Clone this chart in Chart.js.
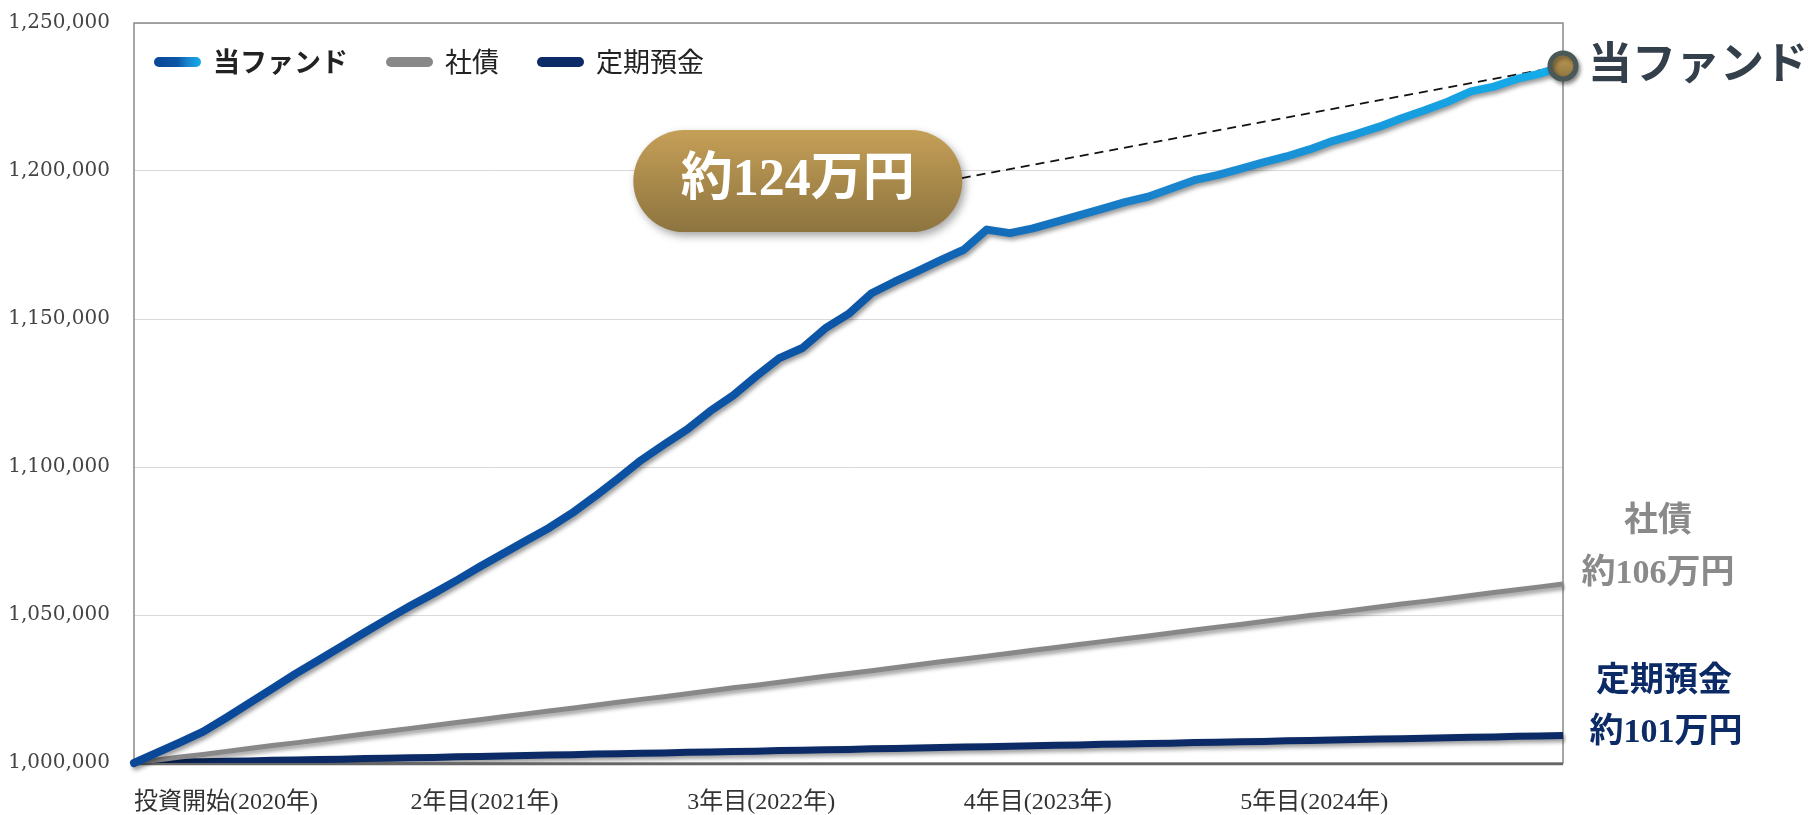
<!DOCTYPE html>
<html lang="ja">
<head>
<meta charset="utf-8">
<script src="https://cdn.jsdelivr.net/npm/chart.js@4.4.1/dist/chart.umd.min.js"></script>
<style>
  html, body { margin: 0; padding: 0; background: #fff; }
  #wrap { width: 1813px; height: 815px; }
</style>
</head>
<body>
<div id="wrap"><canvas id="chart" width="1813" height="815"></canvas></div>
<script>
// tick labels for the x axis (one per year, first month of each year)
const yearLabels = ['投資開始(2020年)', '2年目(2021年)', '3年目(2022年)', '4年目(2023年)', '5年目(2024年)'];
const seriesNames = ['当ファンド', '社債', '定期預金'];

// monthly values (yen)
const fund = [
  1000000, 1003500, 1007000, 1010600, 1015300, 1020200, 1025100, 1030100, 1034700, 1039400,
  1044100, 1048700, 1053100, 1057300, 1061700, 1066300, 1070700, 1075100, 1079400, 1084400,
  1090100, 1096100, 1102300, 1107600, 1112700, 1118900, 1124200, 1130700, 1136800, 1140200,
  1146900, 1151700, 1158700, 1162600, 1166200, 1169900, 1173400, 1180200, 1179000, 1180600,
  1182800, 1185000, 1187200, 1189500, 1191300, 1194100, 1196900, 1198600, 1200700, 1202900,
  1204900, 1207300, 1210100, 1212400, 1214900, 1217800, 1220500, 1223400, 1226900, 1228500,
  1231100, 1232900, 1235500
];
const bond = [
  1000000, 1001000, 1002000, 1002900, 1003900, 1004900, 1005900, 1006800, 1007800, 1008800,
  1009800, 1010700, 1011700, 1012700, 1013700, 1014600, 1015600, 1016600, 1017600, 1018500,
  1019500, 1020500, 1021500, 1022400, 1023400, 1024400, 1025400, 1026300, 1027300, 1028300,
  1029300, 1030200, 1031200, 1032200, 1033200, 1034200, 1035100, 1036100, 1037100, 1038100,
  1039000, 1040000, 1041000, 1042000, 1042900, 1043900, 1044900, 1045900, 1046800, 1047800,
  1048800, 1049800, 1050700, 1051700, 1052700, 1053700, 1054600, 1055600, 1056600, 1057600,
  1058500, 1059500, 1060500
];
const deposit = [
  1000000, 1000100, 1000300, 1000400, 1000600, 1000700, 1000900, 1001000, 1001200, 1001300,
  1001500, 1001600, 1001800, 1001900, 1002100, 1002200, 1002400, 1002500, 1002700, 1002800,
  1003000, 1003100, 1003300, 1003400, 1003600, 1003700, 1003900, 1004000, 1004200, 1004300,
  1004500, 1004600, 1004800, 1004900, 1005100, 1005200, 1005400, 1005500, 1005700, 1005800,
  1006000, 1006100, 1006300, 1006400, 1006600, 1006700, 1006900, 1007000, 1007200, 1007300,
  1007500, 1007600, 1007800, 1007900, 1008100, 1008200, 1008400, 1008500, 1008700, 1008800,
  1009000, 1009100, 1009300
];

// month categories
const months = [];
for (let i = 0; i < fund.length; i++) {
  months.push((2020 + Math.floor(i / 12)) + '/' + (i % 12 + 1));
}

const SERIF = '"Liberation Serif", "Noto Sans CJK JP", serif';
const JP = '"Noto Sans CJK JP", sans-serif';
const last = fund.length - 1;

function ok(...v) { return v.every(Number.isFinite); }

function fundGradient(ctx, x0, x1) {
  if (!ok(x0, x1) || x1 <= x0) return '#0c56a7';
  const g = ctx.createLinearGradient(x0, 0, x1, 0);
  g.addColorStop(0, '#0a4797');
  g.addColorStop(0.5, '#0c56a7');
  g.addColorStop(0.72, '#1a84cd');
  g.addColorStop(1, '#15aeea');
  return g;
}

function goldGradient(ctx, y0, y1) {
  if (!ok(y0, y1)) return '#a8874a';
  const g = ctx.createLinearGradient(0, y0, 0, y1);
  g.addColorStop(0, '#c59f57');
  g.addColorStop(1, '#8d743f');
  return g;
}

// drop shadow under every line
const lineShadow = {
  id: 'lineShadow',
  beforeDatasetDraw(chart) {
    const ctx = chart.ctx;
    ctx.save();
    ctx.shadowColor = 'rgba(0,0,0,0.4)';
    ctx.shadowBlur = 4;
    ctx.shadowOffsetX = 2;
    ctx.shadowOffsetY = 3;
  },
  afterDatasetDraw(chart) {
    chart.ctx.restore();
  }
};

// plot frame + dashed leader line
const frame = {
  id: 'frame',
  beforeDatasetsDraw(chart) {
    const {ctx, chartArea: a, scales} = chart;
    ctx.save();
    ctx.strokeStyle = '#8a8a8a';
    ctx.lineWidth = 1.5;
    ctx.strokeRect(a.left, a.top, a.right - a.left, a.bottom - a.top);
    ctx.strokeStyle = '#666';
    ctx.lineWidth = 2.5;
    ctx.beginPath();
    ctx.moveTo(a.left, a.bottom + 1);
    ctx.lineTo(a.right, a.bottom + 1);
    ctx.stroke();

    // leader from the bubble to the end marker
    const bx = scales.x.getPixelForValue(28.8) + 164;
    const by = scales.y.getPixelForValue(1196600) - 3;
    ctx.setLineDash([9, 6]);
    ctx.lineWidth = 1.8;
    ctx.strokeStyle = '#111';
    ctx.beginPath();
    ctx.moveTo(bx, by);
    ctx.lineTo(scales.x.getPixelForValue(last), scales.y.getPixelForValue(fund[last]));
    ctx.stroke();
    ctx.restore();
  }
};

// bubble, end labels and legend
const notes = {
  id: 'notes',
  afterDatasetsDraw(chart) {
    const {ctx, chartArea: a, scales} = chart;
    const x = scales.x, y = scales.y;
    ctx.save();

    // bubble
    const cx = x.getPixelForValue(28.8), cy = y.getPixelForValue(1196600);
    const w = 329, h = 102, r = h / 2;
    ctx.save();
    ctx.shadowColor = 'rgba(0,0,0,0.35)';
    ctx.shadowBlur = 8;
    ctx.shadowOffsetX = 3;
    ctx.shadowOffsetY = 4;
    ctx.fillStyle = goldGradient(ctx, cy - r, cy + r);
    ctx.beginPath();
    ctx.roundRect(cx - w / 2, cy - r, w, h, r);
    ctx.fill();
    ctx.restore();
    ctx.fillStyle = '#fff';
    ctx.font = 'bold 52px ' + SERIF;
    ctx.textAlign = 'center';
    ctx.textBaseline = 'middle';
    ctx.fillText('約124万円', cx, cy);

    // end labels on the right
    const rx = a.right + 95;
    const yb = y.getPixelForValue(bond[last]);
    const yd = y.getPixelForValue(deposit[last]);
    ctx.font = 'bold 34px ' + SERIF;
    ctx.fillStyle = '#8a8a8a';
    ctx.fillText('社債', rx, yb - 62);
    ctx.fillText('約106万円', rx, yb - 10);
    ctx.fillStyle = '#0b2a66';
    ctx.fillText('定期預金', rx + 6, yd - 53);
    ctx.fillText('約101万円', rx + 8, yd - 2);

    // big fund label next to the marker
    const yf = y.getPixelForValue(fund[last]);
    ctx.textAlign = 'left';
    ctx.fillStyle = '#333f4a';
    ctx.font = 'bold 44px ' + JP;
    ctx.fillText(seriesNames[0], a.right + 25, yf - 4);

    // legend
    const swatch = [null, '#888888', '#0b2a66'];
    let lx = a.left + 20;
    const ly = a.top + 39;
    seriesNames.forEach((name, i) => {
      ctx.lineCap = 'round';
      ctx.lineWidth = 10;
      ctx.strokeStyle = i === 0 ? fundGradient(ctx, lx, lx + 47) : swatch[i];
      ctx.beginPath();
      ctx.moveTo(lx + 5, ly);
      ctx.lineTo(lx + 42, ly);
      ctx.stroke();
      ctx.font = (i === 0 ? 'bold ' : '') + '27px ' + JP;
      ctx.fillStyle = '#222';
      ctx.fillText(name, lx + 59, ly);
      lx += 59 + ctx.measureText(name).width + 38;
    });
    ctx.restore();
  }
};

new Chart(document.getElementById('chart'), {
  type: 'line',
  data: {
    labels: months,
    datasets: [
      {
        label: seriesNames[0],
        data: fund,
        borderWidth: 8,
        borderColor: c => {
          const a = c.chart.chartArea;
          return a ? fundGradient(c.chart.ctx, a.left, a.right) : '#0c56a7';
        },
        pointRadius: c => c.dataIndex === last ? 13 : 0,
        pointBorderWidth: 5,
        pointBorderColor: '#4b5858',
        pointBackgroundColor: c => {
          const s = c.chart.scales.y;
          if (!s) return '#a8874a';
          const py = s.getPixelForValue(fund[last]);
          return goldGradient(c.chart.ctx, py - 13, py + 13);
        },
        borderCapStyle: 'round',
        borderJoinStyle: 'round',
        tension: 0,
        clip: false
      },
      {
        label: seriesNames[1],
        data: bond,
        borderWidth: 5,
        borderColor: '#888888',
        pointRadius: 0,
        tension: 0
      },
      {
        label: seriesNames[2],
        data: deposit,
        borderWidth: 7,
        borderColor: '#0b2a66',
        pointRadius: 0,
        tension: 0
      }
    ]
  },
  options: {
    responsive: false,
    animation: false,
    devicePixelRatio: 1,
    layout: { padding: { left: 0, top: 23, right: 250, bottom: 0 } },
    plugins: {
      legend: { display: false },
      tooltip: { enabled: false }
    },
    scales: {
      x: {
        offset: false,
        grid: { display: false, drawTicks: false },
        border: { display: false },
        ticks: {
          autoSkip: false,
          maxRotation: 0,
          minRotation: 0,
          align: 'start',
          padding: 25,
          color: '#333',
          font: { family: SERIF, size: 24 },
          callback: (v, i) => (i % 12 === 0 && yearLabels[i / 12]) ? yearLabels[i / 12] : ''
        },
        afterFit: s => { s.height = 52; }
      },
      y: {
        min: 1000000,
        max: 1250000,
        grid: { color: '#d9d9d9', lineWidth: 1, drawTicks: false },
        border: { display: false },
        ticks: {
          stepSize: 50000,
          padding: 24,
          color: '#444',
          font: { family: '"DejaVu Serif", serif', size: 20 },
          callback: v => v.toLocaleString('en-US')
        },
        afterFit: s => {
          s.width = 134;
          s.paddingTop = 0;
          s.paddingBottom = 0;
        }
      }
    }
  },
  plugins: [lineShadow, frame, notes]
});
</script>
</body>
</html>
